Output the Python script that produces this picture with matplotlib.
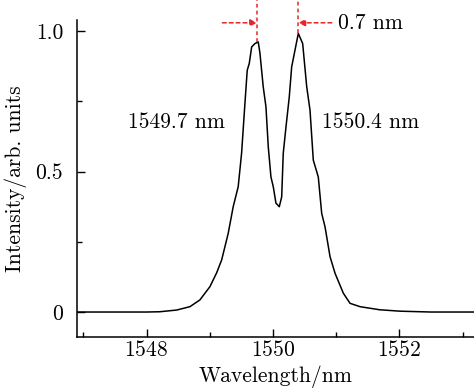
import numpy as np
import matplotlib
matplotlib.use('Agg')
import matplotlib.pyplot as plt
from matplotlib.ticker import MultipleLocator

# font tipo LaTeX (Computer Modern)
plt.rcParams['font.family'] = 'cmr10'
plt.rcParams['mathtext.fontset'] = 'cm'
plt.rcParams['axes.formatter.use_mathtext'] = True

# dados
comprimento = [1546.9, 1547.5, 1548.0, 1548.21, 1548.475, 1548.686, 1548.844, 1549.002,
               1549.108, 1549.188, 1549.292, 1549.371, 1549.450, 1549.504, 1549.557,
               1549.593, 1549.625, 1549.663, 1549.715, 1549.767, 1549.794, 1549.846,
               1549.889, 1549.926, 1549.968, 1550.005, 1550.047, 1550.100, 1550.138,
               1550.163, 1550.206, 1550.258, 1550.296, 1550.348, 1550.401, 1550.470,
               1550.534, 1550.586, 1550.638, 1550.717, 1550.771, 1550.823, 1550.903,
               1550.982, 1551.113, 1551.219, 1551.378, 1551.69, 1552.01, 1552.5, 1553.2]
intensidade = [0.0, 0.0, 0.0, 0.001, 0.007, 0.019, 0.043, 0.090,
               0.139, 0.185, 0.280, 0.375, 0.446, 0.566, 0.744,
               0.861, 0.885, 0.944, 0.956, 0.962, 0.922, 0.802,
               0.731, 0.588, 0.481, 0.446, 0.388, 0.375, 0.410,
               0.566, 0.659, 0.766, 0.873, 0.932, 0.992, 0.956,
               0.802, 0.719, 0.541, 0.481, 0.351, 0.304, 0.197,
               0.138, 0.067, 0.031, 0.019, 0.008, 0.003, 0.0, 0.0]

picos = [1549.75, 1550.40]
alturas_picos = [0.962, 0.992]
rotulos_picos = ['1549.7 nm', '1550.4 nm']

fs = 15.5

fig = plt.figure(figsize=(4.74, 3.88), dpi=100)
ax = fig.add_axes([0.1624, 0.1314, 0.8376, 0.8171])

ax.plot(comprimento, intensidade, color='black', lw=1.1)

ax.set_xlim(1546.9, 1553.18)
ax.set_ylim(-0.089, 1.04)

ax.spines['top'].set_visible(False)
ax.spines['right'].set_visible(False)
for s in ['left', 'bottom']:
    ax.spines[s].set_linewidth(1.1)

ax.set_xticks([1548, 1550, 1552])
ax.xaxis.set_minor_locator(MultipleLocator(1))
ax.set_yticks([0, 0.5, 1.0])
ax.set_yticklabels(['0', '0.5', '1.0'])
ax.yaxis.set_minor_locator(MultipleLocator(0.25))
ax.tick_params(which='both', direction='in', labelsize=fs, width=1)
ax.tick_params(which='major', length=6)
ax.tick_params(which='minor', length=3.5)
ax.tick_params(axis='x', pad=2)
ax.tick_params(axis='y', pad=10)

ax.set_xlabel('Wavelength/nm', fontsize=fs, labelpad=4)
ax.set_ylabel('Intensity/arb. units', fontsize=fs, labelpad=6)

# linhas tracejadas vermelhas nos picos
for p, h in zip(picos, alturas_picos):
    ax.plot([p, p], [h, 1.115], color='#e8262a', ls=(0, (2.5, 2)), lw=1.1, clip_on=False)

y_seta = 1.03
ax.annotate('', xy=(picos[0], y_seta), xytext=(picos[0] - 0.55, y_seta),
            arrowprops=dict(arrowstyle='-|>', color='#e8262a', lw=1.1, ls=(0, (2.5, 2)),
                            mutation_scale=10, shrinkA=0, shrinkB=0),
            annotation_clip=False)
ax.annotate('', xy=(picos[1], y_seta), xytext=(picos[1] + 0.53, y_seta),
            arrowprops=dict(arrowstyle='-|>', color='#e8262a', lw=1.1, ls=(0, (2.5, 2)),
                            mutation_scale=10, shrinkA=0, shrinkB=0),
            annotation_clip=False)
ax.text(picos[1] + 0.63, y_seta, '0.7 nm', fontsize=fs, va='center', ha='left')

ax.text(1548.48, 0.676, rotulos_picos[0], fontsize=fs, ha='center', va='center')
ax.text(1551.55, 0.676, rotulos_picos[1], fontsize=fs, ha='center', va='center')

plt.savefig('out.png', dpi=100)
